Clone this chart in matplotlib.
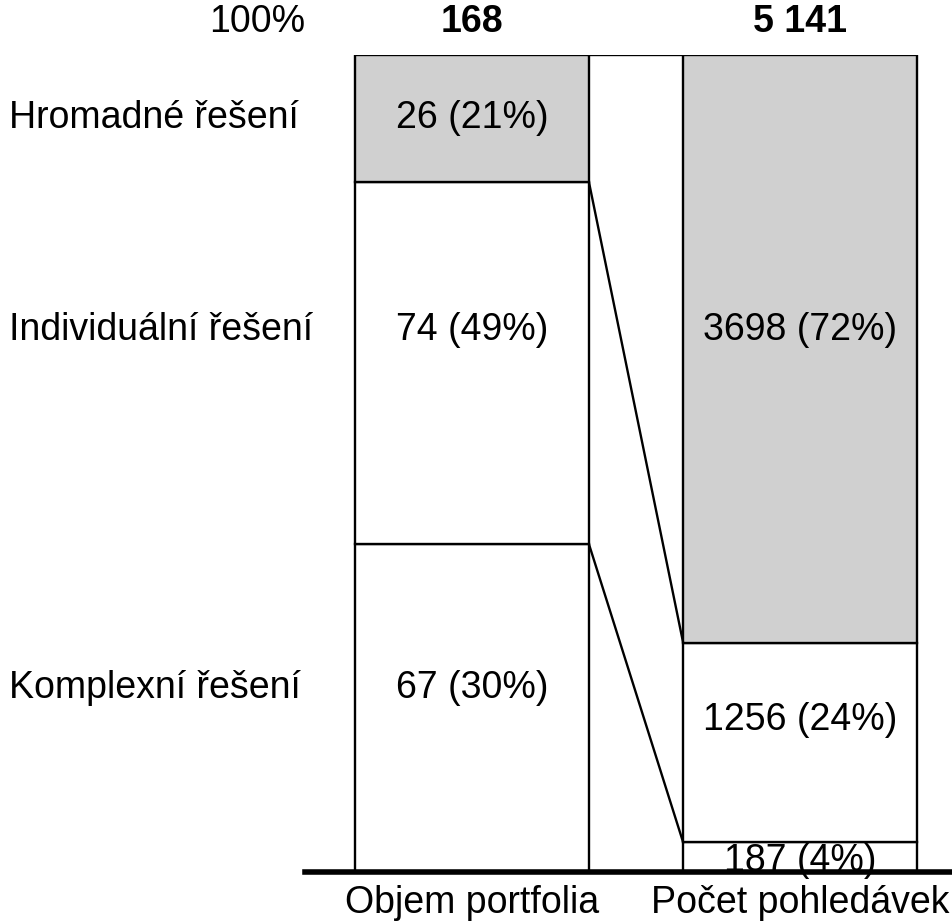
import numpy as np
import matplotlib
matplotlib.use('Agg')
import matplotlib.pyplot as plt
from matplotlib.transforms import blended_transform_factory

plt.rcParams['font.family'] = ['Liberation Sans', 'DejaVu Sans']

# data
categories = ['Komplexní řešení', 'Individuální řešení', 'Hromadné řešení']
bar_names = ['Objem portfolia', 'Počet pohledávek']
portfolio = np.array([67, 74, 26])
claims = np.array([187, 1256, 3698])
portfolio_labels = ['67 (30%)', '74 (49%)', '26 (21%)']
claims_labels = ['187 (4%)', '1256 (24%)', '3698 (72%)']
totals = ['168', '5 141']

# label heights (share of bar height)
cat_label_y = [0.225, 0.663, 0.923]
portfolio_label_y = [0.225, 0.663, 0.923]
claims_label_y = [0.013, 0.186, 0.664]

colors = ['white', 'white', '#d0d0d0']
fs = 27

fig = plt.figure(figsize=(9.52, 9.22), dpi=100)
ax = fig.add_axes([305 / 952, 50 / 922, 647 / 952, 817 / 922])

width = 0.713
for xi, vals in enumerate([portfolio, claims]):
    shares = vals / vals.sum()
    bottoms = np.concatenate([[0], np.cumsum(shares)[:-1]])
    ax.bar(xi, shares, width, bottom=bottoms, color=colors,
           edgecolor='black', linewidth=1.7, zorder=2)

# connecting lines between the bars
p_cum = np.cumsum(portfolio / portfolio.sum())
c_cum = np.cumsum(claims / claims.sum())
x0 = 0 + width / 2
x1 = 1 - width / 2
for k in range(2):
    ax.plot([x0, x1], [p_cum[k], c_cum[k]], color='black', lw=1.7, zorder=3)
# top line joining both bars
ax.plot([x0, x1], [1, 1], color='black', lw=1.7, zorder=3)

# value labels
for lab, y in zip(portfolio_labels, portfolio_label_y):
    ax.text(0, y, lab, ha='center', va='center', fontsize=fs, zorder=4)
for lab, y in zip(claims_labels, claims_label_y):
    ax.text(1, y, lab, ha='center', va='center', fontsize=fs, zorder=4)

# totals above bars
xt = ax.get_xaxis_transform()
for xi, t in enumerate(totals):
    ax.text(xi, 1.04, t, transform=xt, ha='center', va='center',
            fontsize=fs, fontweight='bold')
fig.text(305 / 952, (922 - 22) / 922, '100%', ha='right', va='center', fontsize=fs)

# category labels on the left
tr = blended_transform_factory(fig.transFigure, ax.transData)
for lab, y in zip(categories, cat_label_y):
    ax.text(9 / 952, y, lab, transform=tr, ha='left', va='center', fontsize=fs)

# base line
ax.axhline(0, color='black', lw=4, zorder=5, clip_on=False)

ax.set_xlim(-0.509, 1.463)
ax.set_ylim(0, 1)
ax.set_xticks([0, 1])
ax.set_xticklabels(bar_names, fontsize=fs)
ax.tick_params(axis='x', length=0, pad=9)
ax.set_yticks([])
for s in ax.spines.values():
    s.set_visible(False)

fig.savefig('out.png', dpi=100)
